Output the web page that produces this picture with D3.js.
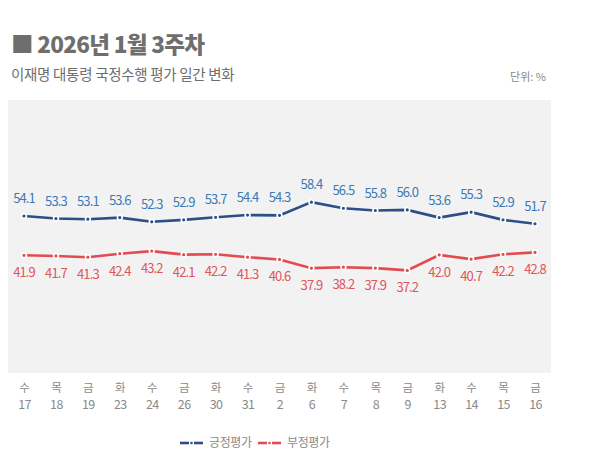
<!DOCTYPE html>
<html>
<head>
<meta charset="utf-8">
<script src="https://cdn.jsdelivr.net/npm/d3@7"></script>
<style>
  body { margin: 0; background: #fff; }
  svg text { font-family: "Noto Sans CJK KR", "Noto Sans", sans-serif; }
</style>
</head>
<body>
<div id="chart"></div>
<script>
// data
var days = ["수", "목", "금", "화", "수", "금", "화", "수", "금", "화", "수", "목", "금", "화", "수", "목", "금"];
var dates = ["17", "18", "19", "23", "24", "26", "30", "31", "2", "6", "7", "8", "9", "13", "14", "15", "16"];
var positive = [54.1, 53.3, 53.1, 53.6, 52.3, 52.9, 53.7, 54.4, 54.3, 58.4, 56.5, 55.8, 56.0, 53.6, 55.3, 52.9, 51.7];
var negative = [41.9, 41.7, 41.3, 42.4, 43.2, 42.1, 42.2, 41.3, 40.6, 37.9, 38.2, 37.9, 37.2, 42.0, 40.7, 42.2, 42.8];

var svgWidth = 589;
var svgHeight = 460;

var svg = d3.select("#chart")
  .append("svg")
  .attr("width", svgWidth)
  .attr("height", svgHeight);

// title block
svg.append("text")
  .attr("x", 11)
  .attr("y", 53)
  .attr("font-size", 22.5)
  .attr("font-weight", 900)
  .attr("letter-spacing", "-0.7px")
  .attr("fill", "#6e6e6e")
  .text("■ 2026년 1월 3주차");

svg.append("text")
  .attr("x", 11)
  .attr("y", 80)
  .attr("font-size", 14.5)
  .attr("letter-spacing", "-0.3px")
  .attr("fill", "#6e6e6e")
  .text("이재명 대통령 국정수행 평가 일간 변화");

svg.append("text")
  .attr("x", 546)
  .attr("y", 81)
  .attr("text-anchor", "end")
  .attr("font-size", 11)
  .attr("fill", "#888")
  .text("단위: %");

// plot background
svg.append("rect")
  .attr("x", 8)
  .attr("y", 100)
  .attr("width", 543)
  .attr("height", 273)
  .attr("fill", "#f2f2f2");

var x = d3.scalePoint()
  .domain(d3.range(dates.length))
  .range([24, 535]);

var y = d3.scaleLinear()
  .domain([30, 60])
  .range([293.6, 197.0]);

// x axis labels (two rows, no line)
var xAxisDays = d3.axisBottom(x).tickSize(0).tickFormat(i => days[i]);
var xAxisDates = d3.axisBottom(x).tickSize(0).tickFormat(i => dates[i]);

svg.append("g")
  .attr("transform", "translate(0, 381)")
  .call(xAxisDays)
  .call(g => g.select(".domain").remove())
  .call(g => g.selectAll("text").attr("font-size", 11.5).attr("fill", "#8a8a8a")
    .attr("font-family", "'Noto Sans CJK KR', sans-serif"));

svg.append("g")
  .attr("transform", "translate(0, 397)")
  .call(xAxisDates)
  .call(g => g.select(".domain").remove())
  .call(g => g.selectAll("text").attr("font-size", 12.5).attr("fill", "#8a8a8a")
    .attr("letter-spacing", "-0.6px")
    .attr("font-family", "'Noto Sans CJK KR', sans-serif"));

var series = [
  { name: "긍정평가", values: positive, line: "#2c4f86", label: "#3b7ab6", dy: -13 },
  { name: "부정평가", values: negative, line: "#e24b52", label: "#e0555c", dy: 22 }
];

var line = d3.line()
  .x((d, i) => x(i))
  .y(d => y(d));

series.forEach(function(s) {
  svg.append("path")
    .datum(s.values)
    .attr("fill", "none")
    .attr("stroke", s.line)
    .attr("stroke-width", 2.6)
    .attr("d", line);

  svg.selectAll(null)
    .data(s.values)
    .enter()
    .append("circle")
    .attr("cx", (d, i) => x(i))
    .attr("cy", d => y(d))
    .attr("r", 2.4)
    .attr("fill", s.line)
    .attr("stroke", "#fff")
    .attr("stroke-width", 1.6);

  svg.selectAll(null)
    .data(s.values)
    .enter()
    .append("text")
    .attr("x", (d, i) => x(i))
    .attr("y", d => y(d) + s.dy)
    .attr("text-anchor", "middle")
    .attr("font-size", 13)
    .attr("letter-spacing", "-0.9px")
    .attr("fill", s.label)
    .text(d => d.toFixed(1));
});

// legend
var legend = svg.append("g")
  .attr("transform", "translate(180, 443)");

var legendItems = legend.selectAll("g")
  .data(series)
  .enter()
  .append("g")
  .attr("transform", (d, i) => `translate(${i * 78}, 0)`);

legendItems.append("line")
  .attr("x1", 0).attr("x2", 9)
  .attr("stroke", d => d.line).attr("stroke-width", 2.6);
legendItems.append("line")
  .attr("x1", 14).attr("x2", 23)
  .attr("stroke", d => d.line).attr("stroke-width", 2.6);
legendItems.append("circle")
  .attr("cx", 11.5)
  .attr("r", 1.3)
  .attr("fill", d => d.line);
legendItems.append("text")
  .attr("x", 29)
  .attr("y", 4)
  .attr("font-size", 12)
  .attr("letter-spacing", "-0.4px")
  .attr("fill", "#8a8a8a")
  .text(d => d.name);
</script>
</body>
</html>
